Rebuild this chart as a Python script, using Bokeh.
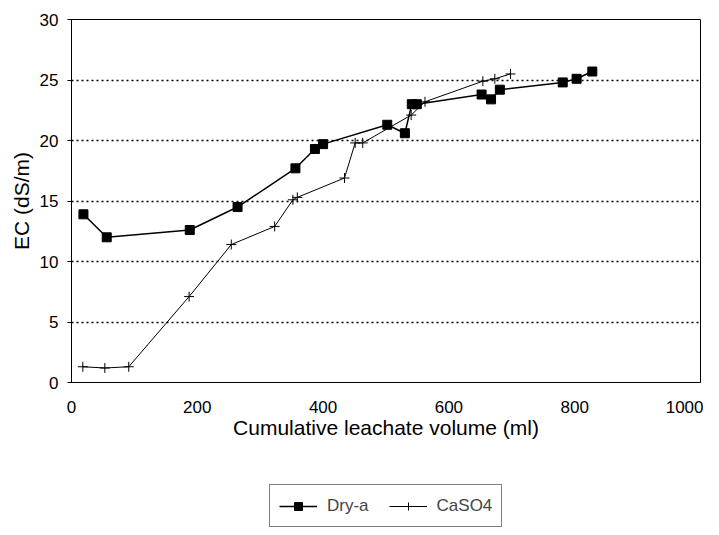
from bokeh.plotting import figure
from bokeh.models import Legend, LegendItem, FixedTicker, Range1d
from bokeh.layouts import column
from bokeh.embed import file_html
from bokeh.resources import INLINE

dry_x = [19, 56, 188, 264, 356, 387, 400, 502, 530, 541, 549, 652, 667, 681, 781, 803, 828]
dry_y = [13.9, 12.0, 12.6, 14.5, 17.7, 19.3, 19.7, 21.3, 20.6, 23.0, 23.0, 23.8, 23.4, 24.2, 24.8, 25.1, 25.7]

ca_x = [18, 53, 91, 187, 254, 323, 352, 359, 434, 451, 463, 540, 562, 654, 673, 698]
ca_y = [1.3, 1.2, 1.3, 7.1, 11.4, 12.9, 15.1, 15.3, 16.9, 19.8, 19.8, 22.1, 23.2, 24.9, 25.1, 25.5]

x_ticks = [0, 200, 400, 600, 800, 1000]
y_ticks = [0, 5, 10, 15, 20, 25, 30]
series_names = ["Dry-a", "CaSO4"]

FONT = "Liberation Sans"

p = figure(width=703, height=449, output_backend="svg", toolbar_location=None,
           x_range=Range1d(0, 1000), y_range=Range1d(0, 30),
           min_border_left=71, min_border_right=3, min_border_top=19,
           min_border_bottom=67)

p.outline_line_color = "black"
p.outline_line_width = 1

p.xgrid.grid_line_color = None
p.ygrid.grid_line_color = "black"
p.ygrid.grid_line_dash = "2 3"
p.ygrid.grid_line_width = 1.3

p.xaxis.ticker = FixedTicker(ticks=x_ticks)
p.yaxis.ticker = FixedTicker(ticks=y_ticks)
p.xaxis.minor_tick_line_color = None
p.yaxis.minor_tick_line_color = None
p.xaxis.major_tick_line_color = None
p.xaxis.major_label_standoff = 12
p.yaxis.major_tick_out = 4
p.yaxis.major_tick_in = 0
p.yaxis.major_label_standoff = 9

for ax in (p.xaxis, p.yaxis):
    ax.axis_line_color = "black"
    ax.major_label_text_font = FONT
    ax.major_label_text_font_size = "17px"
    ax.major_label_text_color = "black"
    ax.axis_label_text_font = FONT
    ax.axis_label_text_font_size = "21px"
    ax.axis_label_text_font_style = "normal"
    ax.axis_label_text_color = "black"

p.xaxis.axis_label = "Cumulative leachate volume (ml)"
p.xaxis.axis_label_standoff = 0
p.yaxis.axis_label = "EC (dS/m)"
p.yaxis.axis_label_standoff = 4

p.line(dry_x, dry_y, line_color="black", line_width=1.5)
p.scatter(dry_x, dry_y, marker="square", size=9, fill_color="black", line_color="black")
p.line(ca_x, ca_y, line_color="black", line_width=1)
p.scatter(ca_x, ca_y, marker="cross", size=10, line_color="black", line_width=1)

# legend panel below the chart
p2 = figure(width=703, height=78, output_backend="svg", toolbar_location=None,
            x_range=Range1d(0, 1), y_range=Range1d(0, 1),
            x_axis_location=None, y_axis_location=None,
            min_border_left=0, min_border_right=0, min_border_top=0, min_border_bottom=0)
p2.outline_line_color = None
p2.xgrid.grid_line_color = None
p2.ygrid.grid_line_color = None

dl = p2.line([-5, -4], [-5, -4], line_color="black", line_width=1.5)
ds = p2.scatter([-5], [-5], marker="square", size=8, fill_color="black", line_color="black")
cl = p2.line([-5, -4], [-5, -4], line_color="black", line_width=1)
cs = p2.scatter([-5], [-5], marker="cross", size=9, line_color="black", line_width=1)

legend = Legend(items=[LegendItem(label=series_names[0], renderers=[dl, ds]),
                       LegendItem(label=series_names[1], renderers=[cl, cs])],
                orientation="horizontal", location=(198, 0),
                border_line_color="black", border_line_width=1,
                label_text_font=FONT, label_text_font_size="17px",
                glyph_width=38, label_standoff=10, spacing=20, padding=9,
                label_height=23, margin=0, background_fill_alpha=1)
p2.add_layout(legend, "center")

layout = column(p, p2, spacing=0)
open("out.html", "w").write(file_html(layout, INLINE))
